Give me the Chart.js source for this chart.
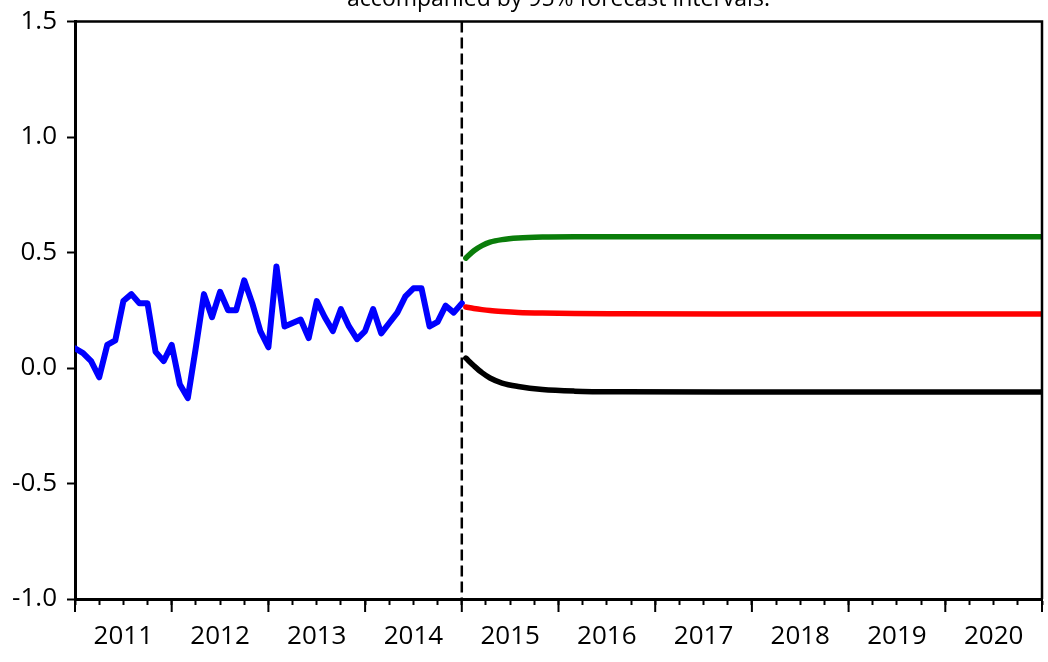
<!DOCTYPE html>
<html>
<head>
<meta charset="utf-8">
<script src="https://cdn.jsdelivr.net/npm/chart.js@4.4.0/dist/chart.umd.min.js"></script>
<style>
  body { margin: 0; background: #fff; overflow: hidden; }
  #wrap { position: relative; width: 1048px; height: 662px; overflow: hidden; }
  #chart { position: absolute; left: 0; top: -14px; }
</style>
</head>
<body>
<div id="wrap"><canvas id="chart" width="1048" height="676"></canvas></div>
<script>
// x axis is in months counted from Jan 2011
const years = ["2011", "2012", "2013", "2014", "2015", "2016", "2017", "2018", "2019", "2020"];
const splitMonth = 48; // start of the forecast (dashed line)

// observed series, one value per month
const observed = [
  0.085, 0.065, 0.03, -0.04, 0.10, 0.12, 0.29, 0.32, 0.28, 0.28, 0.07, 0.03,
  0.10, -0.07, -0.13, 0.09, 0.32, 0.22, 0.33, 0.25, 0.25, 0.38, 0.28, 0.16,
  0.09, 0.44, 0.18, 0.195, 0.21, 0.13, 0.29, 0.22, 0.16, 0.255, 0.18, 0.125,
  0.16, 0.255, 0.15, 0.195, 0.24, 0.31, 0.345, 0.345, 0.18, 0.20, 0.27, 0.24,
  0.28
];

// forecast read at these months
const forecastMonths = [48.5, 49.5, 50.5, 51.5, 53, 55, 58, 62, 68, 80, 100, 120];
const upper = [0.476, 0.508, 0.53, 0.545, 0.556, 0.563, 0.567, 0.568, 0.568, 0.568, 0.568, 0.568];
const mean  = [0.264, 0.258, 0.253, 0.249, 0.245, 0.241, 0.238, 0.236, 0.235, 0.234, 0.234, 0.234];
const lower = [0.043, 0.01, -0.02, -0.043, -0.065, -0.08, -0.093, -0.100, -0.103, -0.104, -0.104, -0.104];

const font = { family: "'Open Sans', sans-serif", size: 26 };

const quarterTicks = [];
for (let m = 0; m <= 120; m += 3) quarterTicks.push({ value: m });

const frame = {
  id: "frame",
  beforeDatasetsDraw(chart) {
    const { ctx, chartArea } = chart;
    const x = chart.scales.x.getPixelForValue(splitMonth);
    ctx.save();
    ctx.strokeStyle = "#000";
    ctx.lineWidth = 2.5;
    ctx.setLineDash([11, 5]);
    ctx.beginPath();
    ctx.moveTo(x, chartArea.top);
    ctx.lineTo(x, chartArea.bottom);
    ctx.stroke();
    ctx.restore();
  },
  afterDraw(chart) {
    const { ctx, chartArea } = chart;
    const xs = chart.scales.x;
    ctx.save();
    ctx.strokeStyle = "#000";
    // top and right border
    ctx.lineWidth = 2.5;
    ctx.beginPath();
    ctx.moveTo(chartArea.left, chartArea.top);
    ctx.lineTo(chartArea.right, chartArea.top);
    ctx.lineTo(chartArea.right, chartArea.bottom);
    ctx.stroke();
    // longer ticks at year boundaries
    ctx.lineWidth = 2;
    for (let m = 0; m <= 120; m += 12) {
      const x = xs.getPixelForValue(m);
      ctx.beginPath();
      ctx.moveTo(x, chartArea.bottom);
      ctx.lineTo(x, chartArea.bottom + 13);
      ctx.stroke();
    }
    ctx.restore();
  }
};

function line(data, xs, color, width) {
  return {
    data: data.map((v, i) => ({ x: xs ? xs[i] : i, y: v })),
    borderColor: color,
    borderWidth: width,
    pointRadius: 0,
    fill: false,
    borderCapStyle: "round",
    borderJoinStyle: "round",
    cubicInterpolationMode: xs ? "monotone" : "default",
    tension: 0
  };
}

new Chart(document.getElementById("chart"), {
  type: "line",
  data: {
    datasets: [
      line(upper, forecastMonths, "#0a7d0a", 5.5),
      line(mean, forecastMonths, "#ff0000", 5.5),
      line(lower, forecastMonths, "#000000", 5.5),
      line(observed, null, "#0000ff", 6)
    ]
  },
  options: {
    responsive: false,
    animation: false,
    devicePixelRatio: 1,
    layout: { padding: { left: 0, right: 6, top: 0, bottom: 0 } },
    plugins: {
      legend: { display: false },
      tooltip: { enabled: false },
      title: {
        display: true,
        fullSize: false,
        text: "accompanied by 95% forecast intervals.",
        color: "#000",
        font: { family: "'Open Sans', sans-serif", size: 23, weight: "normal" },
        padding: { top: 0, bottom: 8 }
      }
    },
    scales: {
      x: {
        type: "linear",
        min: 0,
        max: 120,
        afterBuildTicks: (scale) => { scale.ticks = quarterTicks.slice(); },
        afterFit: (scale) => {
          scale.height = 63;
          scale.paddingLeft = 0;
          scale.paddingRight = 0;
        },
        grid: { drawOnChartArea: false, tickLength: 6, tickWidth: 2, tickColor: "#000" },
        border: { display: true, color: "#000", width: 3 },
        ticks: {
          autoSkip: false,
          maxRotation: 0,
          padding: 16,
          color: "#000",
          font: font,
          callback: (v) => (v % 12 === 6 ? years[(v - 6) / 12] : "")
        }
      },
      y: {
        min: -1,
        max: 1.5,
        afterFit: (scale) => { scale.width = 75; },
        grid: { drawOnChartArea: false, tickLength: 8, tickWidth: 2, tickColor: "#000" },
        border: { display: true, color: "#000", width: 3 },
        ticks: {
          stepSize: 0.5,
          padding: 10,
          color: "#000",
          font: font,
          callback: (v) => v.toFixed(1)
        }
      }
    }
  },
  plugins: [frame]
});
</script>
</body>
</html>
